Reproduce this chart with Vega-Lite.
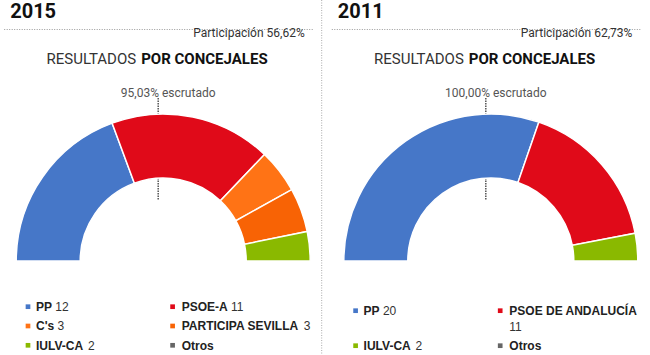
{
  "$schema": "https://vega.github.io/schema/vega-lite/v6.json",
  "width": 650,
  "height": 355,
  "autosize": "none",
  "padding": 0,
  "background": "white",
  "config": {"view": {"stroke": null}},
  "datasets": {
    "seats": [
      {"year": "2015", "i": 0, "party": "PP", "seats": 12},
      {"year": "2015", "i": 1, "party": "PSOE-A", "seats": 11},
      {"year": "2015", "i": 2, "party": "C's", "seats": 3},
      {"year": "2015", "i": 3, "party": "PARTICIPA SEVILLA", "seats": 3},
      {"year": "2015", "i": 4, "party": "IULV-CA", "seats": 2},
      {"year": "2015", "i": 5, "party": "Otros", "seats": 0},
      {"year": "2011", "i": 0, "party": "PP", "seats": 20},
      {"year": "2011", "i": 1, "party": "PSOE DE ANDALUCÍA", "seats": 11},
      {"year": "2011", "i": 2, "party": "IULV-CA", "seats": 2},
      {"year": "2011", "i": 3, "party": "Otros", "seats": 0}
    ],
    "meta": [
      {"year": "2015", "participacion": 56.62, "escrutado": 95.03},
      {"year": "2011", "participacion": 62.73, "escrutado": 100.0}
    ]
  },
  "encoding": {
    "x": {
      "field": "year",
      "type": "nominal",
      "scale": {"type": "band", "domain": ["2015", "2011"], "range": [-0.6, 654.6], "paddingInner": 0, "paddingOuter": 0},
      "axis": null
    }
  },
  "layer": [
    {
      "data": {"name": "meta"},
      "transform": [{"filter": "datum.year == '2011'"}],
      "mark": {"type": "rule", "xOffset": -169.1, "color": "#aaaaaa", "strokeDash": [1, 1.5], "strokeWidth": 1},
      "encoding": {}
    },
    {
      "data": {"name": "meta"},
      "mark": {"type": "rule", "y": 29.5, "xOffset": -159, "x2Offset": 150, "color": "#999999", "strokeDash": [1, 1.5], "strokeWidth": 1},
      "encoding": {"x2": {"field": "year"}}
    },
    {
      "data": {"name": "meta"},
      "mark": {"type": "rule", "y": 98, "y2": 200, "xOffset": -5, "color": "#555555", "strokeDash": [1.5, 1], "strokeWidth": 1.5},
      "encoding": {}
    },
    {
      "data": {"name": "seats"},
      "transform": [
        {"filter": "datum.seats > 0"},
        {"stack": "seats", "groupby": ["year"], "sort": [{"field": "i", "order": "ascending"}], "offset": "normalize", "as": ["s0", "s1"]}
      ],
      "mark": {"type": "arc", "y": 261, "radius": 147, "radius2": 83, "stroke": "white", "strokeWidth": 1.5},
      "encoding": {
        "theta": {"field": "s0", "type": "quantitative", "scale": {"domain": [0, 1], "range": [-1.5707963, 1.5707963]}},
        "theta2": {"field": "s1"},
        "color": {
          "field": "party",
          "type": "nominal",
          "scale": {
            "domain": ["PP", "PSOE-A", "PSOE DE ANDALUCÍA", "C's", "PARTICIPA SEVILLA", "IULV-CA", "Otros"],
            "range": ["#4677C8", "#E00A19", "#E00A19", "#FF7315", "#F86305", "#8AB900", "#666666"]
          },
          "legend": null
        }
      }
    },
    {
      "data": {"name": "meta"},
      "mark": {"type": "text", "y": 17.5, "dx": -153, "align": "left", "baseline": "alphabetic", "font": "Roboto", "fontSize": 20, "fontWeight": "bold", "color": "#111111"},
      "encoding": {"text": {"field": "year"}}
    },
    {
      "data": {"name": "meta"},
      "mark": {"type": "text", "y": 36.5, "dx": 141.5, "align": "right", "baseline": "alphabetic", "font": "Roboto", "fontSize": 12, "color": "#333333",
        "text": {"expr": "'Participación ' + replace(format(datum.participacion, '.2f'), '.', ',') + '%'"}},
      "encoding": {}
    },
    {
      "data": {"name": "meta"},
      "mark": {"type": "text", "y": 64, "dx": -27, "align": "right", "baseline": "alphabetic", "font": "Roboto", "fontSize": 15, "color": "#333333", "text": "RESULTADOS"},
      "encoding": {}
    },
    {
      "data": {"name": "meta"},
      "mark": {"type": "text", "y": 64, "dx": -22, "align": "left", "baseline": "alphabetic", "font": "Roboto", "fontSize": 15, "fontWeight": "bold", "color": "#111111", "text": "POR CONCEJALES"},
      "encoding": {}
    },
    {
      "data": {"name": "meta"},
      "mark": {"type": "text", "y": 96.7, "dx": 5, "align": "center", "baseline": "alphabetic", "font": "Roboto", "fontSize": 12, "color": "#555555",
        "text": {"expr": "replace(format(datum.escrutado, '.2f'), '.', ',') + '% escrutado'"}},
      "encoding": {}
    },
    {
      "data": {"name": "seats"},
      "mark": {"type": "point", "shape": "square", "filled": true, "opacity": 1, "size": 22,
        "xOffset": {"expr": "datum.i % 2 == 0 ? -135.2 : 9.4"},
        "y": {"expr": "(datum.year == '2011' ? [315, 315, 350, 350][datum.i] : [311, 311, 330.3, 330.3, 349.6, 349.6][datum.i]) - 4.3"}},
      "encoding": {
        "color": {"field": "party", "type": "nominal", "legend": null}
      }
    },
    {
      "data": {"name": "seats"},
      "mark": {"type": "text", "align": "left", "baseline": "alphabetic", "font": "Liberation Sans", "fontSize": 12, "fontWeight": "bold", "color": "#222222",
        "dx": {"expr": "datum.i % 2 == 0 ? -127.2 : 18.5"},
        "y": {"expr": "datum.year == '2011' ? [315, 315, 350, 350][datum.i] : [311, 311, 330.3, 330.3, 349.6, 349.6][datum.i]"}},
      "encoding": {"text": {"field": "party"}}
    },
    {
      "data": {"name": "seats"},
      "transform": [{"filter": "datum.seats > 0"}],
      "mark": {"type": "text", "align": "left", "baseline": "alphabetic", "font": "Liberation Sans", "fontSize": 12, "color": "#333333",
        "dx": {"expr": "(datum.i % 2 == 0 ? -127.2 : 18.5) + ((datum.i % 2 == 1 && 12*(0.722*length(datum.party)-0.444*length(replace(datum.party,regexp('[^IÍ ]','g'),''))-0.484*length(replace(datum.party,regexp(\"[^']\",'g'),''))-0.389*length(replace(datum.party,regexp('[^-]','g'),''))-0.111*length(replace(datum.party,regexp('[^LFTZ]','g'),''))-0.055*length(replace(datum.party,regexp('[^EPSVXY]','g'),''))+0.056*length(replace(datum.party,regexp('[^OGQ]','g'),''))-0.166*length(replace(datum.party,regexp('[^s]','g'),''))-0.389*length(replace(datum.party,regexp('[^t]','g'),''))-0.333*length(replace(datum.party,regexp('[^r]','g'),''))-0.111*length(replace(datum.party,regexp('[^o]','g'),''))) + 3.3 + 6.67*length(toString(datum.seats)) > 131) ? 0 : 12*(0.722*length(datum.party)-0.444*length(replace(datum.party,regexp('[^IÍ ]','g'),''))-0.484*length(replace(datum.party,regexp(\"[^']\",'g'),''))-0.389*length(replace(datum.party,regexp('[^-]','g'),''))-0.111*length(replace(datum.party,regexp('[^LFTZ]','g'),''))-0.055*length(replace(datum.party,regexp('[^EPSVXY]','g'),''))+0.056*length(replace(datum.party,regexp('[^OGQ]','g'),''))-0.166*length(replace(datum.party,regexp('[^s]','g'),''))-0.389*length(replace(datum.party,regexp('[^t]','g'),''))-0.333*length(replace(datum.party,regexp('[^r]','g'),''))-0.111*length(replace(datum.party,regexp('[^o]','g'),''))) + 3.3)"},
        "dy": {"expr": "(datum.i % 2 == 1 && 12*(0.722*length(datum.party)-0.444*length(replace(datum.party,regexp('[^IÍ ]','g'),''))-0.484*length(replace(datum.party,regexp(\"[^']\",'g'),''))-0.389*length(replace(datum.party,regexp('[^-]','g'),''))-0.111*length(replace(datum.party,regexp('[^LFTZ]','g'),''))-0.055*length(replace(datum.party,regexp('[^EPSVXY]','g'),''))+0.056*length(replace(datum.party,regexp('[^OGQ]','g'),''))-0.166*length(replace(datum.party,regexp('[^s]','g'),''))-0.389*length(replace(datum.party,regexp('[^t]','g'),''))-0.333*length(replace(datum.party,regexp('[^r]','g'),''))-0.111*length(replace(datum.party,regexp('[^o]','g'),''))) + 3.3 + 6.67*length(toString(datum.seats)) > 131) ? 15.7 : 0"},
        "y": {"expr": "datum.year == '2011' ? [315, 315, 350, 350][datum.i] : [311, 311, 330.3, 330.3, 349.6, 349.6][datum.i]"}},
      "encoding": {"text": {"field": "seats", "type": "quantitative"}}
    }
  ]
}
